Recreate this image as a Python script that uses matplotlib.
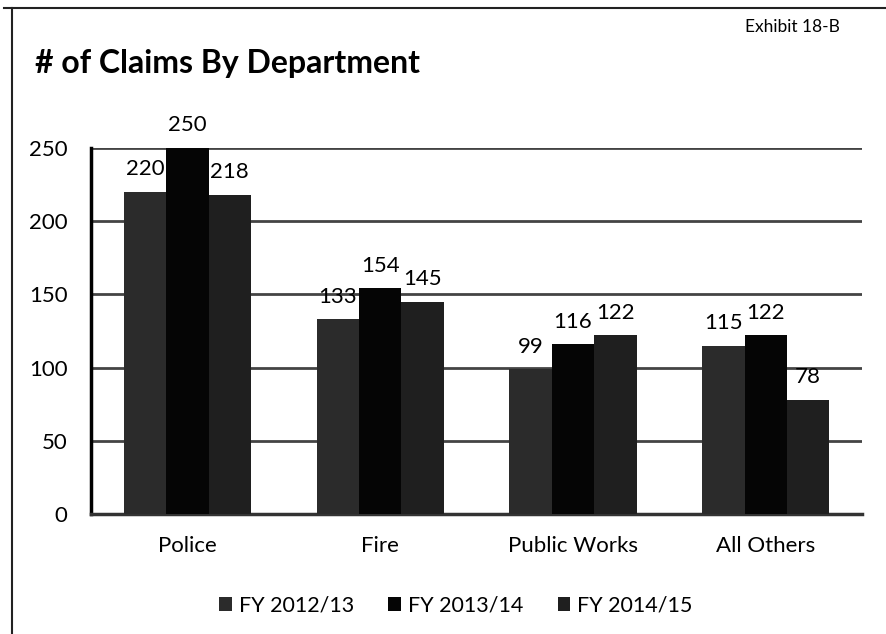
import matplotlib.pyplot as plt
import matplotlib.lines as mlines
import numpy as np

# данные с графика
departments = ["Police", "Fire", "Public Works", "All Others"]
series_names = ["FY 2012/13", "FY 2013/14", "FY 2014/15"]
fy1213 = [220, 133, 99, 115]
fy1314 = [250, 154, 116, 122]
fy1415 = [218, 145, 122, 78]
y_ticks = [0, 50, 100, 150, 200, 250]

plt.rcParams['font.family'] = ['Lato', 'DejaVu Sans']

fig = plt.figure(figsize=(8.87, 6.34), dpi=100)
ax = fig.add_axes([0.1026, 0.189, 0.8694, 0.578])

x = np.arange(len(departments))
w = 0.22
colors = ["#2b2b2b", "#050505", "#1f1f1f"]
all_vals = [fy1213, fy1314, fy1415]

for i, vals in enumerate(all_vals):
    pos = x + (i - 1) * w
    ax.bar(pos, vals, w, color=colors[i], label=series_names[i], zorder=3)
    for px, v in zip(pos, vals):
        ax.annotate(str(v), (px, v), xytext=(0, 9), textcoords="offset points",
                    ha="center", va="bottom", fontsize=16, zorder=4)

ax.set_xlim(-0.5, len(departments) - 0.5)
ax.set_ylim(0, 250)
ax.set_yticks(y_ticks)
ax.set_xticks(x)
ax.set_xticklabels(departments, fontsize=16)
ax.tick_params(axis="y", labelsize=16, length=0, pad=17)
ax.tick_params(axis="x", length=0, pad=16)

# сетка
ax.grid(axis="y", color="#444444", linewidth=2, zorder=0)
for s in ["top", "right"]:
    ax.spines[s].set_visible(False)
ax.spines["left"].set_linewidth(2.5)
ax.spines["bottom"].set_linewidth(2.5)
ax.spines["bottom"].set_color("#333333")

ax.legend(loc="upper center", bbox_to_anchor=(0.473, -0.17), ncol=3, frameon=False,
          fontsize=15.5, handlelength=0.6, handleheight=0.6, handletextpad=0.3,
          columnspacing=1.6)

fig.text(0.04, 0.885, "# of Claims By Department", fontsize=23, fontweight="bold")
fig.text(0.84, 0.95, "Exhibit 18-B", fontsize=12.5)

# рамка: только слева и сверху
fig.lines.append(mlines.Line2D([0.0135, 0.0135], [0, 0.988], transform=fig.transFigure,
                               color="#222222", linewidth=1.5))
fig.lines.append(mlines.Line2D([0.005, 1.0], [0.988, 0.988], transform=fig.transFigure,
                               color="#222222", linewidth=1.5))

plt.savefig("out.png", dpi=100)
